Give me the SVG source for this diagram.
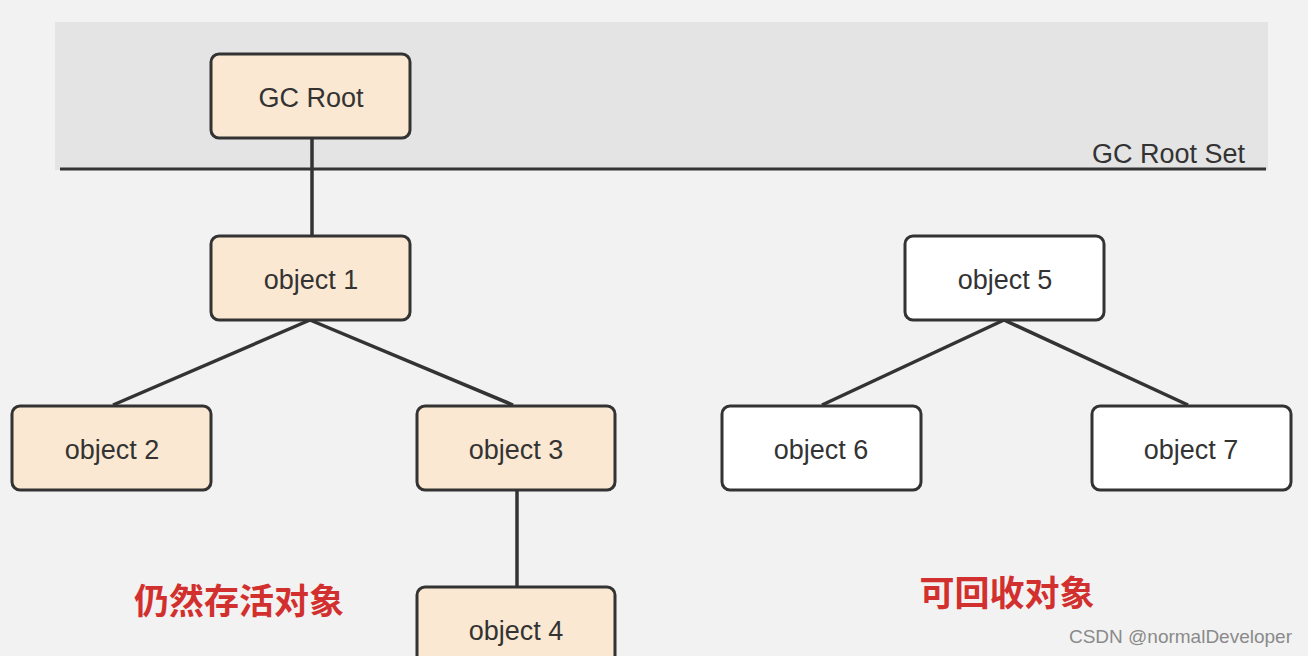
<svg xmlns="http://www.w3.org/2000/svg" width="1308" height="656" viewBox="0 0 1308 656">
<style>
.box{stroke:#333;stroke-width:3}
.live{fill:#fbe8d2}
.dead{fill:#ffffff}
.lbl{font-family:"Liberation Sans",Arial,sans-serif;font-size:27px;fill:#333;text-anchor:middle;dominant-baseline:central}
.conn line{stroke:#333;stroke-width:3.5}
.red{font-family:"Noto Sans CJK SC",sans-serif;font-size:35px;font-weight:bold;fill:#d2302e;text-anchor:middle;dominant-baseline:central}
</style>
<rect width="1308" height="656" fill="#f2f2f2"/>
<rect x="55" y="22" width="1213" height="148" fill="#e4e4e4"/>
<line x1="60" y1="169" x2="1266" y2="169" stroke="#333" stroke-width="3"/>
<text x="1245" y="154" font-family="Liberation Sans,Arial,sans-serif" font-size="27" fill="#333" text-anchor="end" dominant-baseline="central">GC Root Set</text>
<g class="conn">
<line x1="312" y1="138" x2="312" y2="235"/>
<line x1="310" y1="320" x2="113" y2="405"/>
<line x1="310" y1="320" x2="513" y2="405"/>
<line x1="517" y1="490" x2="517" y2="587"/>
<line x1="1004" y1="320" x2="822" y2="405"/>
<line x1="1004" y1="320" x2="1188" y2="405"/>
</g>
<g id="gcroot"><rect class="box live" x="211" y="54" width="199" height="84" rx="8"/><text class="lbl" x="311" y="98">GC Root</text></g>
<g id="obj1"><rect class="box live" x="211" y="236" width="199" height="84" rx="8"/><text class="lbl" x="311" y="280">object 1</text></g>
<g id="obj2"><rect class="box live" x="12" y="406" width="199" height="84" rx="8"/><text class="lbl" x="112" y="450">object 2</text></g>
<g id="obj3"><rect class="box live" x="417" y="406" width="198" height="84" rx="8"/><text class="lbl" x="516" y="450">object 3</text></g>
<g id="obj4"><rect class="box live" x="417" y="587" width="198" height="84" rx="8"/><text class="lbl" x="516" y="631">object 4</text></g>
<g id="obj5"><rect class="box dead" x="905" y="236" width="199" height="84" rx="8"/><text class="lbl" x="1005" y="280">object 5</text></g>
<g id="obj6"><rect class="box dead" x="722" y="406" width="199" height="84" rx="8"/><text class="lbl" x="821" y="450">object 6</text></g>
<g id="obj7"><rect class="box dead" x="1092" y="406" width="199" height="84" rx="8"/><text class="lbl" x="1191" y="450">object 7</text></g>
<text class="red" x="239" y="598">仍然存活对象</text>
<text class="red" x="1007" y="590">可回收对象</text>
<text x="1292" y="636" font-family="Liberation Sans,Arial,sans-serif" font-size="19" fill="#8a8a8a" text-anchor="end" dominant-baseline="central">CSDN @normalDeveloper</text>
</svg>
